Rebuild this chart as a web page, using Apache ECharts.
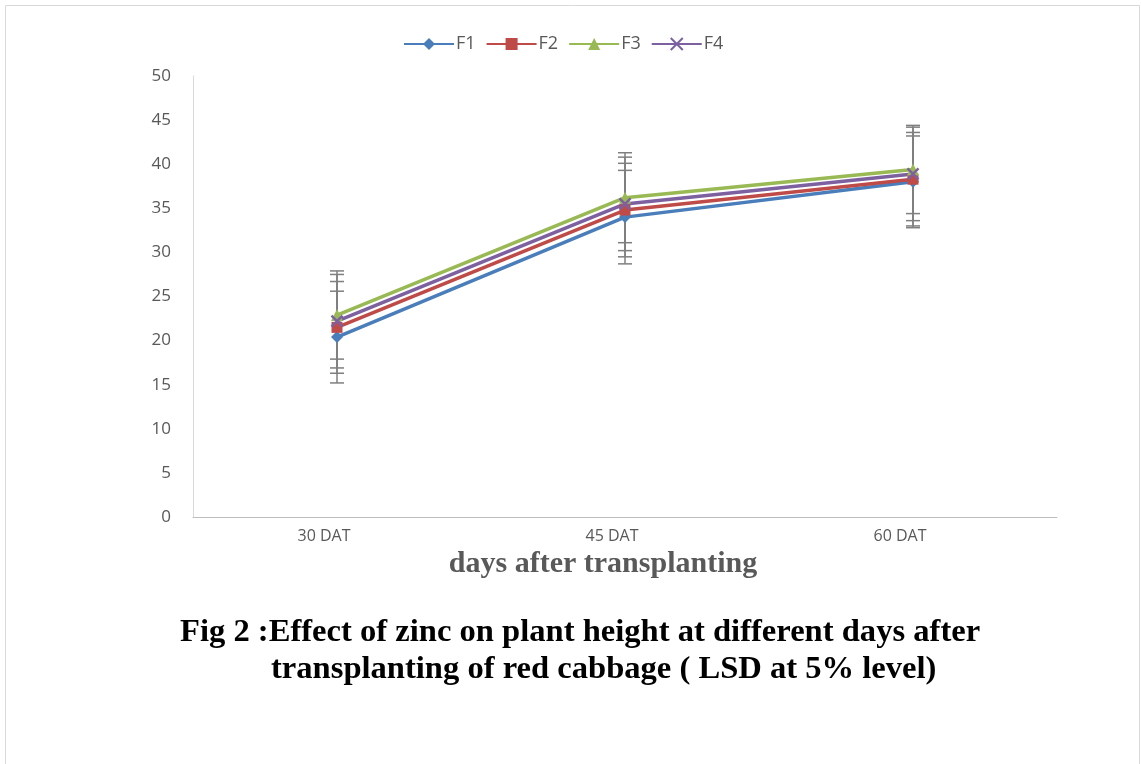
<!DOCTYPE html>
<html><head><meta charset="utf-8">
<script src="https://cdn.jsdelivr.net/npm/echarts@6/dist/echarts.min.js"></script>
<style>html,body{margin:0;padding:0;background:#fff}#c{width:1141px;height:764px}</style>
</head><body><div id="c"></div>
<script>
const categories = ['30 DAT', '45 DAT', '60 DAT'];
const seriesNames = ['F1', 'F2', 'F3', 'F4'];
const F1 = [20.4, 34.0, 38.0];
const F2 = [21.5, 34.8, 38.3];
const F3 = [22.9, 36.2, 39.4];
const F4 = [22.2, 35.5, 38.9];
const errF1 = [5.2, 5.3, 5.2];
const errF2 = [5.2, 5.3, 5.3];
const errF3 = [5.0, 5.1, 5.0];
const errF4 = [5.3, 5.3, 5.3];
const yTicks = [0, 5, 10, 15, 20, 25, 30, 35, 40, 45, 50];
const xAxisName = 'days after transplanting';
const captionLine1 = 'Fig 2 :Effect of zinc on plant height at different days after';
const captionLine2 = 'transplanting of red cabbage ( LSD at 5% level)';

const values = [F1, F2, F3, F4];
const errs = [errF1, errF2, errF3, errF4];
const colors = ['#4a7ebb', '#be4b48', '#98b954', '#7d60a0'];
const symbols = ['diamond', 'rect', 'triangle', 'path://M0,0 L10,10 M10,0 L0,10'];
const symbolSizes = [12, 11, 12, 11];

const chart = echarts.init(document.getElementById('c'), null, {renderer: 'canvas'});

const series = [];
values.forEach((vals, si) => {
  series.push({
    type: 'custom',
    name: seriesNames[si] + ' err',
    z: 1,
    silent: true,
    data: vals.map((v, i) => [i, v - errs[si][i], v + errs[si][i]]),
    renderItem: function (params, api) {
      const lo = api.coord([api.value(0), api.value(1)]);
      const hi = api.coord([api.value(0), api.value(2)]);
      const w = 7;
      const st = {stroke: '#7f7f7f', lineWidth: 1.5};
      return {type: 'group', children: [
        {type: 'line', shape: {x1: lo[0], y1: lo[1], x2: hi[0], y2: hi[1]}, style: st},
        {type: 'line', shape: {x1: lo[0] - w, y1: lo[1], x2: lo[0] + w, y2: lo[1]}, style: st},
        {type: 'line', shape: {x1: hi[0] - w, y1: hi[1], x2: hi[0] + w, y2: hi[1]}, style: st}
      ]};
    }
  });
});
values.forEach((vals, si) => {
  series.push({
    type: 'line',
    name: seriesNames[si],
    data: vals,
    z: 3,
    symbol: symbols[si],
    symbolSize: symbolSizes[si],
    showAllSymbol: true,
    lineStyle: {color: colors[si], width: 3.5},
    itemStyle: si === 3 ? {color: colors[si], borderColor: colors[si], borderWidth: 2.5} : {color: colors[si]},
    emphasis: {disabled: true}
  });
});

chart.setOption({
  animation: false,
  backgroundColor: '#ffffff',
  textStyle: {fontFamily: 'Open Sans, Liberation Sans, sans-serif'},
  legend: {
    data: seriesNames,
    top: 30,
    left: 398,
    itemWidth: 50,
    itemHeight: 15,
    itemGap: 10,
    textStyle: {color: '#595959', fontSize: 18, fontFamily: 'Open Sans, sans-serif', padding: [0, 0, 0, -3]}
  },
  grid: {left: 193, right: 84, top: 76, bottom: 247, containLabel: false},
  xAxis: {
    type: 'category',
    data: categories,
    boundaryGap: true,
    axisLine: {lineStyle: {color: '#bfbfbf', width: 1}},
    axisTick: {show: false},
    axisLabel: {color: '#595959', fontSize: 16, margin: 11, padding: [0, 26, 0, 0]},
    name: xAxisName,
    nameLocation: 'middle',
    nameGap: 25,
    nameTextStyle: {color: '#595959', fontSize: 30, fontWeight: 'bold', fontFamily: 'Liberation Serif, DejaVu Serif, serif', padding: [0, 44, 0, 0]}
  },
  yAxis: {
    type: 'value',
    min: yTicks[0],
    max: yTicks[yTicks.length - 1],
    interval: yTicks[1] - yTicks[0],
    axisLine: {show: true, lineStyle: {color: '#d9d9d9', width: 1}},
    axisTick: {show: false},
    splitLine: {show: false},
    axisLabel: {color: '#595959', fontSize: 17, margin: 22}
  },
  graphic: [
    {type: 'rect', shape: {x: 5.5, y: 5.5, width: 1134, height: 800}, style: {fill: 'none', stroke: '#d9d9d9', lineWidth: 1}, silent: true, z: -1},
    {type: 'text', left: 180, top: 616, style: {text: captionLine1, fontSize: 32.6, fontWeight: 'bold', fontFamily: 'Liberation Serif, serif', fill: '#000'}},
    {type: 'text', left: 271, top: 653, style: {text: captionLine2, fontSize: 32.6, fontWeight: 'bold', fontFamily: 'Liberation Serif, serif', fill: '#000'}}
  ],
  series: series
});
</script></body></html>
